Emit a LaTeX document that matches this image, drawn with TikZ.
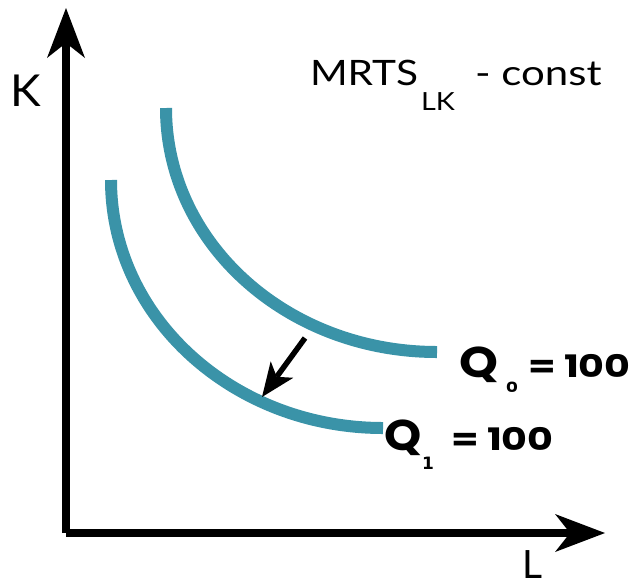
\documentclass[tikz,border=0pt]{standalone}
\usepackage{fontspec}
\usetikzlibrary{arrows.meta}
\newfontfamily\lblfont{Lato}
\newfontfamily\qfont{Poppins}
\newfontfamily\subfont{DejaVu Sans}
\definecolor{curveteal}{RGB}{58,147,168}
\tikzset{
  axisline/.style={line width=8pt, -{Stealth[length=50pt,width=38pt,inset=15pt,line width=0pt]}},
  isoquant/.style={line width=12pt, draw=curveteal},
  shiftarrow/.style={line width=5.5pt, -{Stealth[length=34pt,width=28pt,inset=9pt,line width=0pt]}},
  txt/.style={inner sep=0pt, outer sep=0pt, anchor=base west},
}
\begin{document}
\begin{tikzpicture}[x=1pt,y=-1pt]
\useasboundingbox (0,0) rectangle (636,587);
% axes
\coordinate (origin) at (66,533);
\coordinate (ytip) at (66,8);
\coordinate (xtip) at (605,533);
\draw[axisline] (origin) -- (ytip);
\draw[axisline] (origin) -- (xtip);
% isoquants
\coordinate (q0start) at (166,108);
\coordinate (q0end) at (437,352);
\coordinate (q1start) at (111,180);
\coordinate (q1end) at (383,428);
\draw[isoquant] (q0start) .. controls (166,243) and (287,352) .. (q0end);
\draw[isoquant] (q1start) .. controls (111,317) and (233,428) .. (q1end);
% shift arrow
\coordinate (shtail) at (305,338);
\coordinate (shhead) at (262,397);
\draw[shiftarrow] (shtail) -- (shhead);
% labels
\node[txt] (klab) at (10,106) {\fontsize{44}{44}\selectfont\lblfont\scalebox{1.05}[1]{K}};
\node[txt] (llab) at (522,578) {\fontsize{39}{39}\selectfont\lblfont L};
\node[txt] (mrts) at (310,85) {\fontsize{35}{35}\selectfont\lblfont\scalebox{1.16}[1]{MRTS}};
\node[txt] (mrtssub) at (421,110) {\fontsize{25}{25}\selectfont\lblfont\scalebox{1.15}[1]{LK}};
\node[txt] (mrtsconst) at (475,85) {\fontsize{35}{35}\selectfont\lblfont\scalebox{1.2}[1]{- const}};
\node[txt] (q0Q) at (459,377) {\fontsize{43}{43}\selectfont\qfont\bfseries\scalebox{1.15}[1]{Q}};
\node[txt] (q0sub) at (506,392) {\fontsize{14}{14}\selectfont\qfont\bfseries\scalebox{1.3}[1]{0}};
\node[txt] (q0val) at (528,377) {\fontsize{31}{31}\selectfont\qfont\bfseries\scalebox{1.28}[1]{= 100}};
\node[txt] (q1Q) at (384,450) {\fontsize{43}{43}\selectfont\qfont\bfseries\scalebox{1.1}[1]{Q}};
\node[txt] (q1sub) at (422,469) {\fontsize{17}{17}\selectfont\subfont\bfseries 1};
\node[txt] (q1val) at (451,450) {\fontsize{31}{31}\selectfont\qfont\bfseries\scalebox{1.28}[1]{= 100}};
\end{tikzpicture}
\end{document}
